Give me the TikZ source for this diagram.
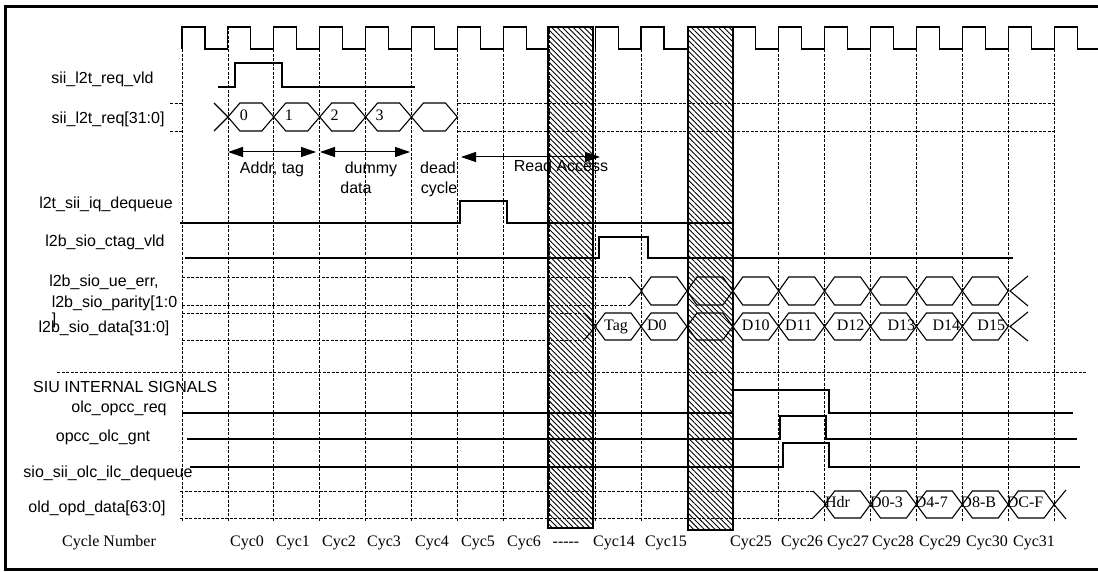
\documentclass[tikz,border=0pt]{standalone}
\usepackage{fontspec}
\setmainfont{Liberation Serif}
\setsansfont{Liberation Sans}
\usetikzlibrary{arrows.meta,patterns.meta}

\begin{document}
\begin{tikzpicture}[x=1pt, y=-1pt,
        sig/.style={font=\sffamily\fontsize{16}{18}\selectfont, inner sep=0pt, text height=11.5pt, text depth=3.5pt},
        cyc/.style={font=\rmfamily\fontsize{16}{18}\selectfont, inner sep=0pt, text height=11.5pt, text depth=3.5pt},
        wave/.style={line width=1.1pt, line join=miter},
        gridline/.style={dash pattern=on 3pt off 1.5pt, line width=0.8pt},
        marker/.style={line width=1pt, {Triangle[length=15pt,width=10pt]}-{Triangle[length=15pt,width=10pt]}},
        hatchbox/.style={pattern={Lines[angle=-45, distance=3.8pt, line width=0.9pt]}, draw, line width=1.3pt}
    ]
    \useasboundingbox (0,0) rectangle (1098,572);
    \draw[line width=2.5pt] (5.5,6.5) rectangle (1104,569.5);

    % cycle grid
    \foreach \k in {0,...,19}
        \draw[gridline] (182+45.9*\k,27) -- (182+45.9*\k,522);

    % clock
    \foreach \k in {0,1,2,3,4,5,6,7,9,10,12,13,14,15,16,17,18,19}
        \draw[wave] (182+45.9*\k,49) -- ++(0,-22) -- ++(23,0) -- ++(0,22) -- ++(22.9,0);

    % signal names
    \node[sig] (vld) at (102.5,80) {sii\_l2t\_req\_vld};
    \node[sig] (req) at (108,120) {sii\_l2t\_req[31:0]};
    \node[sig] (iqdq) at (106,205) {l2t\_sii\_iq\_dequeue};
    \node[sig] (ctag) at (105,243) {l2b\_sio\_ctag\_vld};
    \node[sig] (ueerr) at (104,283) {l2b\_sio\_ue\_err,};
    \node[sig] (parity) at (114.5,303) {l2b\_sio\_parity[1:0};
    \node[sig] (brk) at (54,320) {]};
    \node[sig] (data) at (104,328) {l2b\_sio\_data[31:0]};
    \node[sig, anchor=west] (siu) at (33,388) {SIU INTERNAL SIGNALS};
    \node[sig] (opccreq) at (119,408) {olc\_opcc\_req};
    \node[sig] (gnt) at (103,437) {opcc\_olc\_gnt};
    \node[sig] (ilcdq) at (108,473) {sio\_sii\_olc\_ilc\_dequeue};
    \node[sig] (opd) at (97,508) {old\_opd\_data[63:0]};

    % single bit signals
    \draw[wave] (218,87) -- (235,87) -- (235,63) -- (282,63) -- (282,87) -- (415,87);
    \draw[wave] (180,223) -- (460,223) -- (460,201) -- (507,201) -- (507,223) -- (733,223);
    \draw[wave] (185,258) -- (599,258) -- (599,237) -- (648,237) -- (648,258) -- (1013,258);
    \draw[wave] (182,413) -- (733,413) -- (733,390) -- (829,390) -- (829,413) -- (1073,413);
    \draw[wave] (187,439) -- (780,439) -- (780,416) -- (826,416) -- (826,439) -- (1077,439);
    \draw[wave] (190,467) -- (783,467) -- (783,443) -- (829,443) -- (829,467) -- (1080,467);

    % sii_l2t_req bus
    \draw[gridline] (170,103) -- (182,103) (170,131) -- (182,131);
    \draw[gridline] (458,103) -- (1054,103) (458,131) -- (1054,131);
    \draw[wave] (214,103) -- (228,117) -- (214,131);
    \foreach \k/\t/\dx in {1/0/-7, 2/1/-8, 3/2/-8, 4/3/-9, 5//0} {
        \pgfmathsetmacro\xa{182+45.9*\k}
        \pgfmathsetmacro\xb{\xa+45.9}
        \draw[wave] (\xa,117) -- (\xa+12,103) -- (\xb-12,103) -- (\xb,117) -- (\xb-12,131) -- (\xa+12,131) -- cycle;
        \node[cyc] (req\k) at ({(\xa+\xb)/2+\dx},117) {\t};
    }

    % phase markers
    \draw[marker] (228,152) -- (316,152);
    \draw[marker] (320,152) -- (410,152);
    \draw[marker] (461,157) -- (600,157);
    \node[sig] (addr) at (272,170) {Addr, tag};
    \node[sig] (dummy) at (371,170) {dummy};
    \node[sig] (dummy2) at (356,190) {data};
    \node[sig] (dead) at (438,170) {dead};
    \node[sig] (dead2) at (439,190) {cycle};
    \node[sig] (rdacc) at (561,168) {Read Access};

    % l2b_sio_ue_err bus
    \draw[gridline] (182,277) -- (630,277) (182,305) -- (630,305);
    \draw[wave] (630,277) -- (642,291) -- (630,305);
    \foreach \k in {10,...,17} {
        \pgfmathsetmacro\xa{182+45.9*\k}
        \pgfmathsetmacro\xb{\xa+45.9}
        \draw[wave] (\xa,291) -- (\xa+10,277) -- (\xb-10,277) -- (\xb,291) -- (\xb-10,305) -- (\xa+10,305) -- cycle;
    }
    \draw[wave] (1028,276) -- (1010,291) -- (1028,306);

    % l2b_sio_data bus
    \draw[gridline] (182,313) -- (584,313) (182,340) -- (584,340);
    \draw[wave] (584,313) -- (596,326.5) -- (584,340);
    \foreach \k/\t/\dx in {9/Tag/-2, 10/D0/-7, 11//0, 12/D10/0, 13/D11/-3, 14/D12/3, 15/D13/8, 16/D14/7, 17/D15/6} {
        \pgfmathsetmacro\xa{182+45.9*\k}
        \pgfmathsetmacro\xb{\xa+45.9}
        \draw[wave] (\xa,326.5) -- (\xa+10,313) -- (\xb-10,313) -- (\xb,326.5) -- (\xb-10,340) -- (\xa+10,340) -- cycle;
        \node[cyc] (dat\k) at ({(\xa+\xb)/2+\dx},326.5) {\t};
    }
    \draw[wave] (1028,312) -- (1010,326.5) -- (1028,341);

    % section divider
    \draw[gridline] (57,372) -- (1087,372);

    % old_opd_data bus
    \draw[gridline] (180,491) -- (813,491) (180,518) -- (813,518);
    \draw[wave] (813,491) -- (826,504.5) -- (813,518);
    \foreach \k/\t/\dx in {14/Hdr/-10, 15/D0-3/-7, 16/D4-7/-8, 17/D8-B/-7, 18/DC-F/-6} {
        \pgfmathsetmacro\xa{182+45.9*\k}
        \pgfmathsetmacro\xb{\xa+45.9}
        \draw[wave] (\xa,504.5) -- (\xa+10,491) -- (\xb-10,491) -- (\xb,504.5) -- (\xb-10,518) -- (\xa+10,518) -- cycle;
        \node[cyc] (opd\k) at ({(\xa+\xb)/2+\dx},503) {\t};
    }
    \draw[wave] (1066,490) -- (1054,504.5) -- (1066,519);

    % skipped cycles
    \draw[hatchbox] (548,27) rectangle (593,528);
    \draw[hatchbox] (688,27) rectangle (733,530);

    % cycle numbers
    \node[cyc] (cycnum) at (109,542) {Cycle Number};
    \foreach \x/\t [count=\i] in {247/Cyc0, 293/Cyc1, 339/Cyc2, 384/Cyc3, 432/Cyc4, 478/Cyc5, 524/Cyc6, 614/Cyc14, 666/Cyc15, 751/Cyc25, 802/Cyc26, 848/Cyc27, 893/Cyc28, 940/Cyc29, 987/Cyc30, 1034/Cyc31}
        \node[cyc] (cyc\i) at (\x,542) {\t};
    \node[cyc] (gap) at (566,542) {-{}-{}-{}-{}-};
\end{tikzpicture}
\end{document}
